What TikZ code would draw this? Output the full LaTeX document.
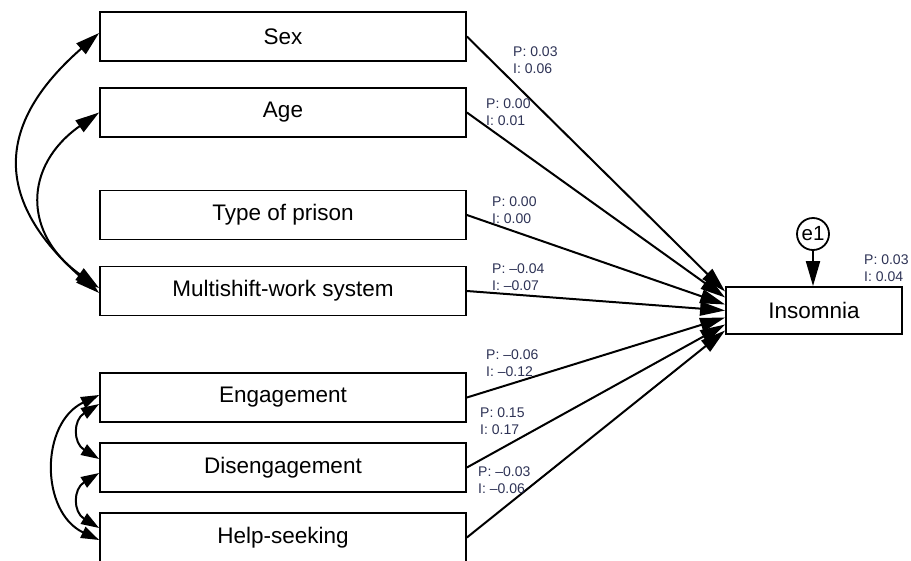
\documentclass[tikz,border=0pt]{standalone}
\usepackage{fontspec}
\setmainfont{Liberation Sans}
\usetikzlibrary{arrows.meta,calc}
\definecolor{coef}{RGB}{45,50,85}
\begin{document}
\begin{tikzpicture}[x=1pt,y=-1pt,
  var/.style={draw,line width=1.8pt,minimum width=366pt,minimum height=49pt,
    inner sep=0pt,font=\fontsize{22.5}{26}\selectfont},
  coefl/.style={anchor=west,align=left,inner sep=0pt,text=coef,
    font=\fontsize{14}{17}\selectfont},
  regpath/.style={line width=2pt,-{Triangle[length=25pt,width=14pt]}},
  cov/.style={line width=2pt,
    {Triangle[length=24pt,width=14pt]}-{Triangle[length=24pt,width=14pt]}},
  covs/.style={line width=2pt,
    {Triangle[length=18pt,width=12pt]}-{Triangle[length=18pt,width=12pt]}}]

\useasboundingbox (0,0) rectangle (911,560);
\clip (0,0) rectangle (911,560);

% predictors
\node[var] (sex)   at (283,36.5)  {Sex};
\node[var] (age)   at (283,112.5) {Age};
\node[var] (type)  at (283,215)   {Type of prison};
\node[var] (multi) at (283,291)   {Multishift-work system};
\node[var] (eng)   at (283,397.5) {Engagement};
\node[var] (dis)   at (283,467.5) {Disengagement};
\node[var] (help)  at (283,537.5) {Help-seeking};

% outcome and its error term
\node[draw,line width=1.8pt,minimum width=176pt,minimum height=47pt,inner sep=0pt,
  font=\fontsize{22.5}{26}\selectfont] (ins) at (814,310.5) {Insomnia};
\node[draw,circle,line width=1.8pt,minimum size=32pt,inner sep=0pt,
  font=\fontsize{20.5}{24}\selectfont] (e1) at (813,234) {e1};
\draw[regpath] (e1.south) -- (e1.south |- ins.north);

% regression paths
\draw[regpath] (sex.east)   -- ($(ins.west)+(0,-19)$);
\draw[regpath] (age.east)   -- ($(ins.west)+(0,-13)$);
\draw[regpath] (type.east)  -- ($(ins.west)+(0,-6)$);
\draw[regpath] (multi.east) -- ($(ins.west)+(0,0)$);
\draw[regpath] (eng.east)   -- ($(ins.west)+(0,7)$);
\draw[regpath] (dis.east)   -- ($(ins.west)+(0,14)$);
\draw[regpath] (help.east)  -- ($(ins.west)+(0,20)$);

% covariances
\draw[cov] ($(sex.west)+(0,-3.5)$) .. controls (-6,125) and (-6,201) .. ($(multi.west)+(0,2)$);
\draw[cov] (age.west) .. controls (23,166) and (23,234) .. ($(multi.west)+(0,-3)$);
\draw[covs] ($(eng.west)+(0,-2.5)$) .. controls (40,423) and (40,512) .. ($(help.west)+(0,2.5)$);
\draw[covs] ($(eng.west)+(0,6.5)$) .. controls (73,420) and (73,443) .. ($(dis.west)+(0,-8.5)$);
\draw[covs] ($(dis.west)+(0,5.5)$) .. controls (73,489) and (73,512) .. ($(help.west)+(0,-9.5)$);

% coefficients
\node[coefl] (csex)   at (513,60.5)  {P: 0.03\\I: 0.06};
\node[coefl] (cage)   at (486,112.5) {P: 0.00\\I: 0.01};
\node[coefl] (ctype)  at (492,210)   {P: 0.00\\I: 0.00};
\node[coefl] (cmulti) at (492,277)   {P: \textendash0.04\\I: \textendash0.07};
\node[coefl] (ceng)   at (486,363.5) {P: \textendash0.06\\I: \textendash0.12};
\node[coefl] (cdis)   at (480,421.5) {P: 0.15\\I: 0.17};
\node[coefl] (chelp)  at (478,480.5) {P: \textendash0.03\\I: \textendash0.06};
\node[coefl] (cins)   at (864,268.5) {P: 0.03\\I: 0.04};
\end{tikzpicture}
\end{document}
